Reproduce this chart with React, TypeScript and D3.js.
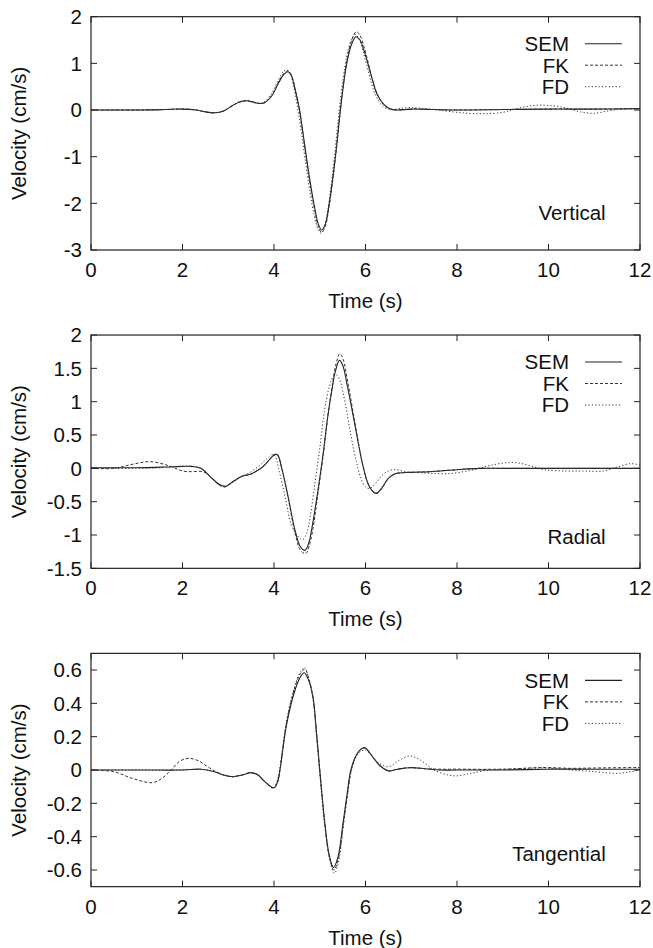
import React from "react";
import * as d3 from "d3";

type Pt = [number, number];

const TIME_TICKS = [0, 2, 4, 6, 8, 10, 12];
const VERTICAL_TICKS = [2, 1, 0, -1, -2, -3];
const RADIAL_TICKS = [2, 1.5, 1, 0.5, 0, -0.5, -1, -1.5];
const TANGENTIAL_TICKS = [0.6, 0.4, 0.2, 0, -0.2, -0.4, -0.6];
const SERIES_NAMES = ["SEM", "FK", "FD"];

const verticalSEM: Pt[] = [[0,0],[1,0],[1.6,0.01],[2,0.02],[2.3,0.0],[2.5,-0.04],[2.7,-0.06],[2.9,-0.02],[3.1,0.1],[3.25,0.17],[3.4,0.2],[3.55,0.17],[3.7,0.14],[3.8,0.16],[3.95,0.3],[4.1,0.58],[4.22,0.77],[4.31,0.82],[4.38,0.74],[4.46,0.45],[4.55,0.05],[4.62,-0.4],[4.7,-0.95],[4.8,-1.6],[4.9,-2.15],[4.97,-2.45],[5.04,-2.57],[5.12,-2.45],[5.2,-2.05],[5.28,-1.5],[5.36,-0.85],[5.44,-0.1],[5.52,0.55],[5.6,1.05],[5.7,1.42],[5.79,1.57],[5.88,1.5],[5.96,1.3],[6.05,1.0],[6.15,0.65],[6.25,0.35],[6.4,0.12],[6.55,0.02],[6.7,0.0],[7.0,0.02],[7.5,0.01],[8,0.0],[9,0.01],[10,0.02],[11,0.02],[12,0.03]];
const verticalFK: Pt[] = [[0,0],[1,0],[1.6,0.01],[2,0.02],[2.3,0.0],[2.5,-0.04],[2.7,-0.06],[2.9,-0.02],[3.1,0.1],[3.25,0.17],[3.4,0.2],[3.55,0.17],[3.7,0.14],[3.8,0.16],[3.95,0.31],[4.1,0.6],[4.22,0.79],[4.31,0.84],[4.38,0.75],[4.46,0.45],[4.55,0.03],[4.62,-0.43],[4.7,-1.0],[4.8,-1.66],[4.9,-2.2],[4.97,-2.5],[5.04,-2.62],[5.12,-2.5],[5.2,-2.1],[5.28,-1.53],[5.36,-0.87],[5.44,-0.1],[5.52,0.57],[5.6,1.1],[5.7,1.5],[5.8,1.68],[5.88,1.6],[5.96,1.38],[6.05,1.05],[6.15,0.66],[6.25,0.35],[6.4,0.11],[6.55,0.02],[6.7,0.0],[7.0,0.02],[7.5,0.01],[8,0.0],[9,0.01],[10,0.02],[11,0.02],[12,0.03]];
const verticalFD: Pt[] = [[0,0],[1,0],[1.6,0.01],[2,0.02],[2.3,0.0],[2.5,-0.04],[2.7,-0.06],[2.9,-0.02],[3.1,0.1],[3.25,0.18],[3.4,0.2],[3.55,0.16],[3.68,0.14],[3.8,0.18],[3.95,0.36],[4.1,0.65],[4.2,0.82],[4.28,0.86],[4.36,0.76],[4.44,0.45],[4.52,0.02],[4.6,-0.48],[4.68,-1.05],[4.78,-1.72],[4.88,-2.27],[4.96,-2.55],[5.03,-2.64],[5.1,-2.52],[5.18,-2.12],[5.26,-1.52],[5.34,-0.82],[5.42,-0.05],[5.5,0.6],[5.58,1.1],[5.68,1.48],[5.77,1.62],[5.86,1.52],[5.94,1.28],[6.03,0.95],[6.13,0.58],[6.23,0.3],[6.38,0.08],[6.55,0.01],[6.8,0.04],[7.0,0.05],[7.3,0.03],[7.6,0.0],[8.0,-0.05],[8.5,-0.08],[9.0,-0.05],[9.3,0.03],[9.7,0.1],[10.1,0.09],[10.4,0.04],[10.7,-0.04],[11.0,-0.07],[11.3,-0.02],[11.6,0.02],[12,0.03]];

const radialSEM: Pt[] = [[0,0.01],[1,0.01],[1.6,0.02],[2.0,0.03],[2.2,0.03],[2.4,0.0],[2.6,-0.12],[2.8,-0.24],[2.93,-0.27],[3.1,-0.2],[3.3,-0.12],[3.48,-0.09],[3.62,-0.04],[3.75,0.02],[3.9,0.13],[4.02,0.21],[4.08,0.2],[4.17,0.0],[4.31,-0.43],[4.46,-0.93],[4.58,-1.18],[4.68,-1.23],[4.76,-1.12],[4.82,-0.93],[4.95,-0.38],[5.07,0.2],[5.18,0.8],[5.26,1.15],[5.34,1.45],[5.43,1.62],[5.5,1.55],[5.6,1.25],[5.75,0.72],[5.85,0.35],[5.94,0.05],[6.05,-0.22],[6.15,-0.34],[6.24,-0.375],[6.35,-0.3],[6.5,-0.15],[6.65,-0.08],[7.0,-0.06],[7.4,-0.05],[8,-0.02],[8.5,0.0],[9,0.0],[10,0.0],[11,0.0],[12,0.0]];
const radialFK: Pt[] = [[0,0],[0.5,0.0],[0.9,0.06],[1.3,0.1],[1.7,0.04],[2.0,-0.04],[2.2,-0.05],[2.45,-0.05],[2.6,-0.12],[2.8,-0.25],[2.93,-0.28],[3.1,-0.2],[3.3,-0.12],[3.48,-0.09],[3.62,-0.04],[3.75,0.02],[3.9,0.13],[4.02,0.21],[4.08,0.2],[4.17,0.0],[4.31,-0.45],[4.46,-0.97],[4.58,-1.23],[4.69,-1.28],[4.77,-1.16],[4.84,-0.95],[4.96,-0.38],[5.08,0.22],[5.19,0.85],[5.27,1.22],[5.35,1.55],[5.44,1.72],[5.51,1.64],[5.61,1.3],[5.76,0.72],[5.86,0.33],[5.95,0.02],[6.06,-0.24],[6.16,-0.35],[6.25,-0.37],[6.36,-0.3],[6.5,-0.15],[6.65,-0.08],[7.0,-0.06],[7.4,-0.05],[8,-0.02],[8.5,0.0],[9,0.0],[10,0.0],[11,0.0],[12,0.0]];
const radialFD: Pt[] = [[0,0.0],[1,0.0],[1.6,0.01],[2.0,0.03],[2.2,0.03],[2.4,0.0],[2.6,-0.12],[2.8,-0.24],[2.95,-0.27],[3.1,-0.21],[3.3,-0.12],[3.5,-0.05],[3.7,0.05],[3.85,0.15],[3.97,0.21],[4.03,0.18],[4.1,0.0],[4.24,-0.42],[4.38,-0.85],[4.5,-1.0],[4.62,-1.07],[4.7,-1.0],[4.76,-0.85],[4.88,-0.3],[5.0,0.3],[5.1,0.85],[5.2,1.2],[5.3,1.38],[5.37,1.4],[5.45,1.3],[5.55,1.0],[5.68,0.5],[5.8,0.1],[5.9,-0.15],[6.0,-0.28],[6.1,-0.3],[6.25,-0.2],[6.4,-0.08],[6.6,-0.02],[6.9,-0.05],[7.3,-0.07],[7.8,-0.08],[8.3,-0.03],[8.7,0.04],[9.2,0.09],[9.6,0.04],[9.9,-0.02],[10.4,-0.04],[10.8,-0.04],[11.2,-0.04],[11.5,0.02],[11.8,0.07],[12,0.05]];

const tangentialSEM: Pt[] = [[0,0],[1,0],[2,0.0],[2.4,0.005],[2.7,-0.01],[2.9,-0.03],[3.1,-0.04],[3.3,-0.03],[3.5,-0.016],[3.65,-0.03],[3.8,-0.07],[4.0,-0.106],[4.08,-0.07],[4.13,0.0],[4.28,0.28],[4.46,0.48],[4.58,0.56],[4.66,0.584],[4.74,0.55],[4.85,0.44],[4.93,0.22],[5.0,0.0],[5.11,-0.316],[5.2,-0.5],[5.3,-0.586],[5.4,-0.52],[5.51,-0.316],[5.6,-0.14],[5.68,0.0],[5.8,0.09],[5.9,0.125],[5.99,0.134],[6.1,0.1],[6.3,0.03],[6.5,-0.005],[6.7,0.005],[6.97,0.014],[7.3,0.008],[7.6,0.0],[8,0.0],[9,0.0],[10,0.005],[11,0.005],[12,0.005]];
const tangentialFK: Pt[] = [[0,0],[0.5,-0.01],[0.9,-0.05],[1.34,-0.076],[1.55,-0.05],[1.75,0.0],[1.95,0.055],[2.15,0.07],[2.35,0.055],[2.55,0.02],[2.7,-0.005],[2.9,-0.03],[3.1,-0.04],[3.3,-0.03],[3.5,-0.016],[3.65,-0.03],[3.8,-0.07],[4.0,-0.108],[4.08,-0.07],[4.13,0.0],[4.28,0.29],[4.46,0.5],[4.58,0.58],[4.67,0.605],[4.75,0.56],[4.85,0.44],[4.93,0.22],[5.0,0.0],[5.11,-0.32],[5.2,-0.51],[5.31,-0.6],[5.41,-0.53],[5.52,-0.32],[5.61,-0.14],[5.69,0.0],[5.8,0.09],[5.9,0.125],[6.0,0.13],[6.1,0.1],[6.3,0.03],[6.5,-0.005],[6.7,0.005],[6.97,0.014],[7.3,0.008],[7.6,0.005],[8,0.005],[9,0.005],[9.9,0.015],[10.5,0.01],[11,0.012],[12,0.015]];
const tangentialFD: Pt[] = [[0,0],[1,0],[2,0.0],[2.4,0.005],[2.7,-0.01],[2.9,-0.03],[3.1,-0.04],[3.3,-0.03],[3.5,-0.016],[3.65,-0.03],[3.8,-0.07],[3.98,-0.11],[4.06,-0.07],[4.12,0.0],[4.27,0.29],[4.45,0.5],[4.58,0.59],[4.67,0.615],[4.75,0.56],[4.85,0.43],[4.93,0.2],[5.0,-0.02],[5.11,-0.34],[5.22,-0.54],[5.32,-0.62],[5.41,-0.55],[5.52,-0.32],[5.61,-0.14],[5.69,0.0],[5.8,0.08],[5.92,0.115],[6.0,0.12],[6.12,0.09],[6.3,0.04],[6.5,0.02],[6.75,0.06],[6.97,0.084],[7.2,0.06],[7.5,0.0],[7.8,-0.03],[8.0,-0.035],[8.3,-0.02],[8.7,0.0],[9.2,0.005],[9.9,0.012],[10.5,0.0],[11,-0.01],[11.5,-0.02],[11.8,-0.01],[12,0.0]];

const PANELS = [
  { name: "Vertical", domain: [-3, 2], ticks: VERTICAL_TICKS, series: [verticalSEM, verticalFK, verticalFD], label: [11.25, -2.2] },
  { name: "Radial", domain: [-1.5, 2], ticks: RADIAL_TICKS, series: [radialSEM, radialFK, radialFD], label: [11.25, -1.02] },
  { name: "Tangential", domain: [-0.7, 0.7], ticks: TANGENTIAL_TICKS, series: [tangentialSEM, tangentialFK, tangentialFD], label: [11.25, -0.5] },
];

const W = 653;
const H = 948;
const LEFT = 91;
const RIGHT = 640;
const PANEL_TOP0 = 16.7;
const PANEL_H = 233.3;
const PANEL_STEP = 318.33;
const FONT = "'Liberation Sans', Arial, Helvetica, sans-serif";
const FS = 20.5;
const TICK = 6;
const STYLES = [
  { dash: undefined as string | undefined, color: "#222", width: 1.1 },
  { dash: "3,2", color: "#333", width: 1 },
  { dash: "1.2,2.2", color: "#333", width: 1 },
];

function fmt(v: number) {
  return String(v);
}

function Panel({ idx }: { idx: number }) {
  const p = PANELS[idx];
  const top = PANEL_TOP0 + idx * PANEL_STEP;
  const bottom = top + PANEL_H;
  const x = d3.scaleLinear().domain([0, 12]).range([LEFT, RIGHT]);
  const y = d3.scaleLinear().domain(p.domain).range([bottom, top]);
  const line = d3
    .line<Pt>()
    .x((d) => x(d[0]))
    .y((d) => y(d[1]))
    .curve(d3.curveCatmullRom.alpha(0.5));
  const axisColor = "#222";
  return (
    <g>
      <defs>
        <clipPath id={`clip${idx}`}>
          <rect x={LEFT} y={top} width={RIGHT - LEFT} height={PANEL_H} />
        </clipPath>
      </defs>
      <g clipPath={`url(#clip${idx})`}>
        {p.series.map((s, i) => (
          <path
            key={i}
            d={line(s) || ""}
            fill="none"
            stroke={STYLES[i].color}
            strokeWidth={STYLES[i].width}
            strokeDasharray={STYLES[i].dash}
          />
        ))}
      </g>
      <rect x={LEFT} y={top} width={RIGHT - LEFT} height={PANEL_H} fill="none" stroke={axisColor} strokeWidth={1.2} />
      {TIME_TICKS.map((t) => (
        <g key={`xt${t}`}>
          <line x1={x(t)} x2={x(t)} y1={bottom} y2={bottom - TICK} stroke={axisColor} strokeWidth={1} />
          <line x1={x(t)} x2={x(t)} y1={top} y2={top + TICK} stroke={axisColor} strokeWidth={1} />
          <text x={x(t)} y={bottom + 27} textAnchor="middle" fontSize={FS} fontFamily={FONT} fill="#111">
            {fmt(t)}
          </text>
        </g>
      ))}
      {p.ticks.map((v) => (
        <g key={`yt${v}`}>
          <line x1={LEFT} x2={LEFT + TICK} y1={y(v)} y2={y(v)} stroke={axisColor} strokeWidth={1} />
          <line x1={RIGHT} x2={RIGHT - TICK} y1={y(v)} y2={y(v)} stroke={axisColor} strokeWidth={1} />
          <text x={LEFT - 9} y={y(v)} dy="0.36em" textAnchor="end" fontSize={FS} fontFamily={FONT} fill="#111">
            {fmt(v)}
          </text>
        </g>
      ))}
      <text x={(LEFT + RIGHT) / 2} y={bottom + 58} textAnchor="middle" fontSize={FS} fontFamily={FONT} fill="#111">
        Time (s)
      </text>
      <text
        transform={`translate(26,${(top + bottom) / 2}) rotate(-90)`}
        textAnchor="middle"
        fontSize={FS}
        fontFamily={FONT}
        fill="#111"
      >
        Velocity (cm/s)
      </text>
      {SERIES_NAMES.map((n, i) => {
        const ly = top + 27 + i * 21.5;
        return (
          <g key={n}>
            <text x={569} y={ly} dy="0.36em" textAnchor="end" fontSize={FS} fontFamily={FONT} fill="#111">
              {n}
            </text>
            <line
              x1={585}
              x2={622}
              y1={ly}
              y2={ly}
              stroke={STYLES[i].color}
              strokeWidth={STYLES[i].width}
              strokeDasharray={STYLES[i].dash}
            />
          </g>
        );
      })}
      <text x={x(p.label[0])} y={y(p.label[1])} dy="0.36em" textAnchor="end" fontSize={FS} fontFamily={FONT} fill="#111">
        {p.name}
      </text>
    </g>
  );
}

export default function App() {
  return (
    <svg
      width={W}
      height={H}
      viewBox={`0 0 ${W} ${H}`}
      style={{ position: "absolute", left: 0, top: 0, background: "#fff" }}
    >
      <rect width={W} height={H} fill="#fff" />
      {PANELS.map((_, i) => (
        <Panel key={i} idx={i} />
      ))}
    </svg>
  );
}
